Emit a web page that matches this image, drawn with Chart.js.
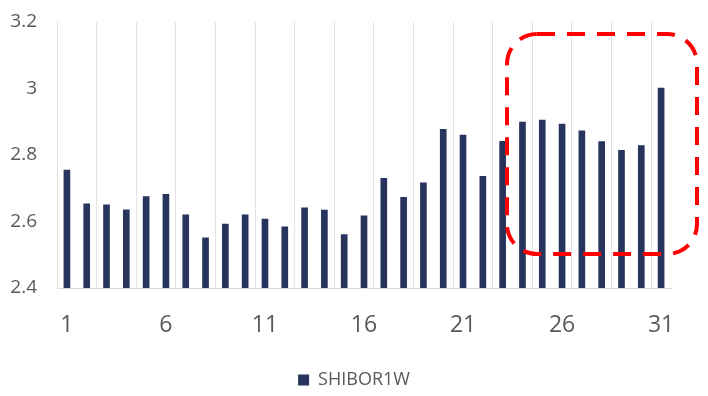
<!DOCTYPE html>
<html>
<head>
<meta charset="utf-8">
<script src="https://cdn.jsdelivr.net/npm/chart.js@4.4.1/dist/chart.umd.min.js"></script>
<style>
  html, body { margin: 0; padding: 0; background: #ffffff; }
  #wrap { width: 708px; height: 396px; position: relative; }
</style>
</head>
<body>
<div id="wrap"><canvas id="c" width="708" height="396"></canvas></div>
<script>
const categories = Array.from({length: 31}, (_, i) => String(i + 1));
const seriesName = "SHIBOR1W";
const shiborValues = [
  2.755, 2.653, 2.650, 2.635, 2.675, 2.682, 2.620, 2.551, 2.592, 2.620,
  2.607, 2.584, 2.641, 2.634, 2.561, 2.617, 2.730, 2.673, 2.716, 2.877,
  2.860, 2.736, 2.841, 2.899, 2.905, 2.893, 2.873, 2.840, 2.814, 2.828,
  3.001
];
const xTickLabels = ["1", "6", "11", "16", "21", "26", "31"];
const yTicks = [2.4, 2.6, 2.8, 3.0, 3.2];

const FONT = "'Open Sans', 'Noto Sans', sans-serif";
const TEXT = "#595959";

// Red dashed rounded highlight box (annotation overlay)
const highlightBox = {
  id: 'highlightBox',
  afterDatasetsDraw(chart) {
    const ctx = chart.ctx;
    const x = 507, y = 34, w = 190, h = 220, r = 30;
    ctx.save();
    ctx.strokeStyle = '#FF0000';
    ctx.lineWidth = 4;
    ctx.setLineDash([18, 12]);
    ctx.beginPath();
    ctx.moveTo(x + r, y);
    ctx.lineTo(x + w - r, y);
    ctx.arcTo(x + w, y, x + w, y + r, r);
    ctx.lineTo(x + w, y + h - r);
    ctx.arcTo(x + w, y + h, x + w - r, y + h, r);
    ctx.lineTo(x + r, y + h);
    ctx.arcTo(x, y + h, x, y + h - r, r);
    ctx.lineTo(x, y + r);
    ctx.arcTo(x, y, x + r, y, r);
    ctx.closePath();
    ctx.stroke();
    ctx.restore();
  }
};

function fixVertical(width) {
  return (s) => { s.width = width; s.paddingTop = 0; s.paddingBottom = 0; };
}

new Chart(document.getElementById('c'), {
  type: 'bar',
  data: {
    labels: categories,
    datasets: [{
      label: seriesName,
      data: shiborValues,
      backgroundColor: '#26345E',
      borderWidth: 0,
      barThickness: 6
    }]
  },
  options: {
    responsive: false,
    animation: false,
    devicePixelRatio: 1,
    layout: { padding: { top: 22, right: 0, bottom: -3, left: 0 } },
    plugins: {
      legend: {
        position: 'bottom',
        labels: {
          font: { family: FONT, size: 18 },
          color: TEXT,
          boxWidth: 11,
          boxHeight: 11,
          padding: 3
        }
      },
      tooltip: { enabled: false }
    },
    scales: {
      x: {
        grid: {
          display: true,
          drawTicks: false,
          offset: true,
          color: (c) => (c.index % 2 === 0 ? '#E3E3E3' : 'rgba(0,0,0,0)'),
          lineWidth: 1
        },
        border: { display: true, color: '#D9D9D9', width: 1 },
        ticks: {
          autoSkip: false,
          maxRotation: 0,
          padding: 24,
          color: TEXT,
          font: { family: FONT, size: 23 },
          callback: function (v, i) {
            const lab = this.getLabelForValue(v);
            return xTickLabels.includes(lab) ? lab : '';
          }
        },
        afterFit: (s) => { s.height = 80; s.paddingLeft = 0; s.paddingRight = 0; }
      },
      y: {
        min: yTicks[0],
        max: yTicks[yTicks.length - 1],
        grid: { display: false, drawTicks: false },
        border: { display: false },
        ticks: {
          stepSize: 0.2,
          padding: 20,
          color: TEXT,
          font: { family: FONT, size: 19 },
          callback: (v) => String(+v.toFixed(1))
        },
        afterFit: fixVertical(57)
      },
      yRight: {
        position: 'right',
        display: true,
        min: yTicks[0],
        max: yTicks[yTicks.length - 1],
        grid: { display: false, drawTicks: false },
        border: { display: false },
        ticks: { display: false },
        afterFit: fixVertical(37)
      }
    }
  },
  plugins: [highlightBox]
});
</script>
</body>
</html>
